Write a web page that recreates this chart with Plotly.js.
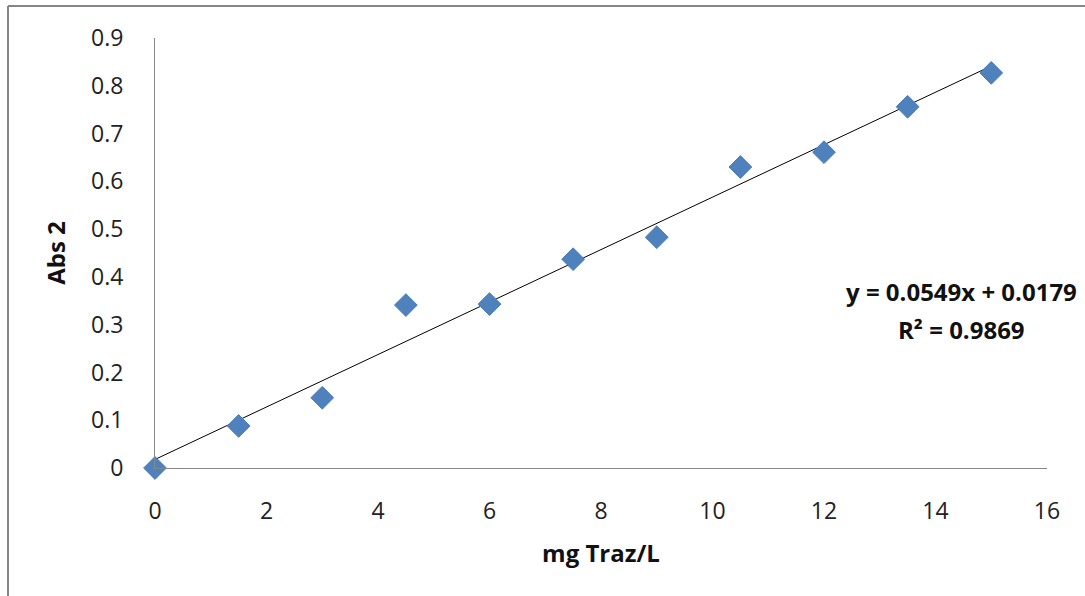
<!DOCTYPE html>
<html><head><meta charset="utf-8">
<script src="https://cdn.plot.ly/plotly-3.0.1.min.js"></script>
<style>html,body{margin:0;padding:0;background:#fff}#chart{width:1085px;height:596px}</style>
</head><body><div id="chart"></div>
<script>
var concentration = [0, 1.5, 3, 4.5, 6, 7.5, 9, 10.5, 12, 13.5, 15];
var absorbance = [0, 0.088, 0.147, 0.341, 0.343, 0.437, 0.483, 0.630, 0.661, 0.756, 0.827];
var slope = 0.0549, intercept = 0.0179;
var eqText = "y = 0.0549x + 0.0179";
var r2Text = "R² = 0.9869";
var xTitle = "mg Traz/L", yTitle = "Abs 2";

var xFit = [concentration[0], concentration[concentration.length-1]];
var yFit = xFit.map(function(x){return slope*x+intercept;});

var ml=155, mr=38, mt=38, mb=128, W=1085, H=596;
var pw=W-ml-mr, ph=H-mt-mb;
var font = "Open Sans, Liberation Sans, sans-serif";

var traces = [
 {x: xFit, y: yFit, mode:'lines', line:{color:'#000', width:1}, hoverinfo:'skip', cliponaxis:false},
 {x: concentration, y: absorbance, mode:'markers', cliponaxis:false,
  marker:{symbol:'diamond', size:17.5, color:'#4F81BD', line:{color:'#4A7EBB', width:1}}}
];
var layout = {
 width:W, height:H, showlegend:false,
 margin:{l:ml, r:mr, t:mt, b:mb},
 paper_bgcolor:'#fff', plot_bgcolor:'#fff',
 font:{family:font, color:'#000'},
 xaxis:{range:[0,16], dtick:2, tick0:0, showgrid:false, zeroline:false, showline:true, linecolor:'#878787', linewidth:1,
   ticks:'', ticklabelstandoff:22, tickfont:{size:23, family:font, color:'#222'},
   title:{text:xTitle, font:{size:24, family:font, color:'#111', weight:'bold'}, standoff:20}},
 yaxis:{range:[0,0.9], dtick:0.1, tick0:0, showgrid:false, zeroline:false, showline:true, linecolor:'#878787', linewidth:1,
   ticks:'', ticklabelstandoff:26, tickfont:{size:23, family:font, color:'#222'},
   title:{text:yTitle, font:{size:24, family:font, color:'#111', weight:'bold'}, standoff:18}},
 annotations:[
  {xref:'x', yref:'y', x:14.46, y:0.37, text:'<b>'+eqText+'</b>', showarrow:false, xanchor:'center', yanchor:'middle', font:{size:24, family:font, color:'#111'}},
  {xref:'x', yref:'y', x:14.46, y:0.289, text:'<b>'+r2Text+'</b>', showarrow:false, xanchor:'center', yanchor:'middle', font:{size:24, family:font, color:'#111'}}
 ],
 shapes:[
  {type:'line', xref:'paper', yref:'paper', x0:(8-ml)/pw, x1:(W+10-ml)/pw, y0:1+(mt-6)/ph, y1:1+(mt-6)/ph, line:{color:'#868686', width:2}},
  {type:'line', xref:'paper', yref:'paper', x0:(8-ml)/pw, x1:(8-ml)/pw, y0:1+(mt-6)/ph, y1:-(mb+10)/ph, line:{color:'#868686', width:2}}
 ]
};
Plotly.newPlot('chart', traces, layout, {displayModeBar:false, staticPlot:true});
</script></body></html>
